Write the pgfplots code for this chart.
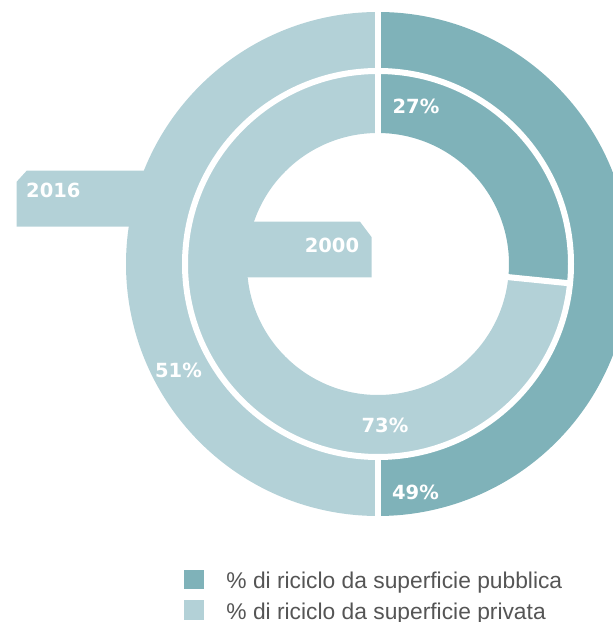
\documentclass[border=0pt]{standalone}
\usepackage{pgfplots}
\pgfplotsset{compat=1.18}
\usepackage{pgfplotstable}
\usepackage{fontspec}
\setmainfont{Liberation Sans}
\newfontfamily\lblfont{DejaVu Sans}[UprightFont={* Bold}]
\definecolor{pub}{RGB}{127,178,185}
\definecolor{priv}{RGB}{179,209,215}
\definecolor{legtext}{RGB}{85,85,85}
\newcommand\lbl{\lblfont\fontsize{19.5pt}{23pt}\selectfont}
\newcommand\legfont{\fontsize{22.8pt}{27pt}\selectfont}
% shares of each ring (percent, as drawn); labels shown: 2016 49% / 51%, 2000 27% / 73%
\pgfplotstableread{
year  pub   priv
2016  50.0  50.0
2000  26.6  73.4
}\shares
% sector: colour, inner radius, outer radius, start angle, end angle (centre 378,358)
\newcommand\sector[5]{%
  \fill[#1] ([shift={(#4:#3pt)}]axis cs:378,358) arc[start angle=#4, end angle=#5, radius=#3pt]
    -- ([shift={(#5:#2pt)}]axis cs:378,358) arc[start angle=#5, end angle=#4, radius=#2pt] -- cycle;}
\newcommand\sep[3]{%
  \draw[white, line width=6pt] ([shift={(#1:#2pt)}]axis cs:378,358) -- ([shift={(#1:#3pt)}]axis cs:378,358);}
\begin{document}
\begin{tikzpicture}
\pgfplotstablegetelem{0}{pub}\of\shares \let\outerpub\pgfplotsretval
\pgfplotstablegetelem{1}{pub}\of\shares \let\innerpub\pgfplotsretval
\pgfmathsetmacro{\ao}{90-3.6*\outerpub}
\pgfmathsetmacro{\ai}{90-3.6*\innerpub}
\begin{axis}[name=ax, x=1pt, y=1pt, xmin=0, xmax=613, ymin=0, ymax=622,
  hide axis, clip=true,
  legend style={at={(0.3002,0.0836)}, anchor=north west, draw=none, fill=none,
    inner sep=0pt, outer sep=0pt, column sep=23.3pt, row sep=6.8pt,
    font=\legfont, text=legtext,
    nodes={inner sep=0pt, text height=16pt, text depth=5pt}},
  legend cell align=left]
\addlegendimage{legend image code/.code={\fill[pub] (0pt,-5.5pt) rectangle (18.7pt,13pt);}}
\addlegendentry{\% di riciclo da superficie pubblica}
\addlegendimage{legend image code/.code={\fill[priv] (0pt,-5.5pt) rectangle (18.7pt,13pt);}}
\addlegendentry{\% di riciclo da superficie privata}
% callouts
\fill[priv] (axis cs:16.7,440.3) -- (axis cs:26.7,451.3) -- (axis cs:160,451.3)
  -- (axis cs:160,395.3) -- (axis cs:16.7,395.3) -- cycle;
\fill[priv] (axis cs:240,400.3) -- (axis cs:360,400.3) -- (axis cs:371.7,384.7)
  -- (axis cs:371.7,344.7) -- (axis cs:240,344.7) -- cycle;
% outer ring (2016)
\sector{pub}{193}{252}{90}{\ao}
\sector{priv}{193}{252}{\ao}{-270}
% inner ring (2000)
\sector{pub}{131}{193}{90}{\ai}
\sector{priv}{131}{193}{\ai}{-270}
% separators
\draw[white, line width=6pt] (axis cs:378,358) circle[radius=193pt];
\sep{90}{128}{256}
\sep{\ao}{193}{256}
\sep{\ai}{128}{193}
% labels
\node[font=\lbl, text=white, anchor=base] at (axis cs:416,508) {27\%};
\node[font=\lbl, text=white, anchor=base] at (axis cs:385,189) {73\%};
\node[font=\lbl, text=white, anchor=base] at (axis cs:415.5,122) {49\%};
\node[font=\lbl, text=white, anchor=base] at (axis cs:178.5,244) {51\%};
\node[font=\lbl, text=white, anchor=base west, inner sep=0pt] at (axis cs:26,424.7) {2016};
\node[font=\lbl, text=white, anchor=base east, inner sep=0pt] at (axis cs:359.3,369.7) {2000};
\end{axis}
\pgfresetboundingbox
\path[use as bounding box] (ax.south west) rectangle (ax.north east);
\end{tikzpicture}
\end{document}
